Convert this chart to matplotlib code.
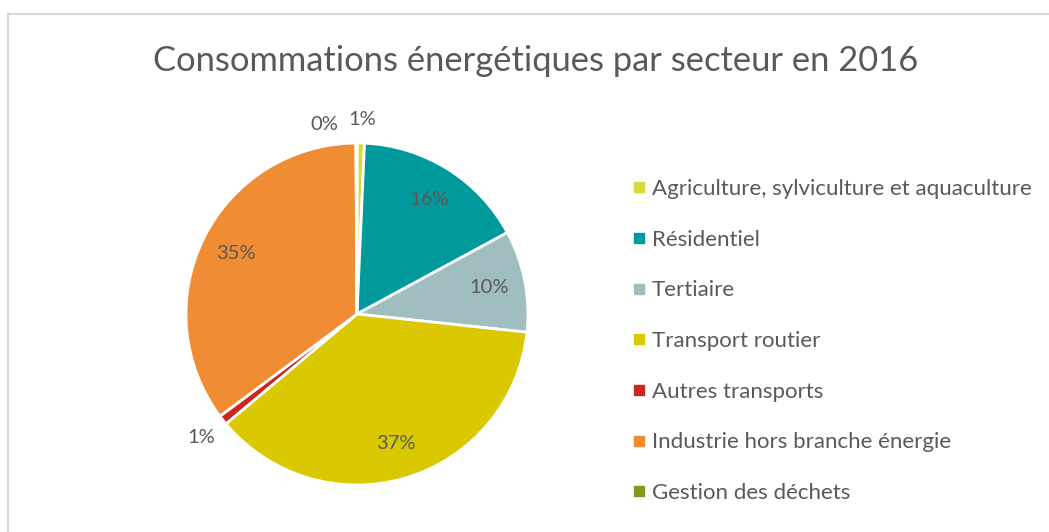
import numpy as np
import matplotlib
matplotlib.use("Agg")
import matplotlib.pyplot as plt
from matplotlib.lines import Line2D
from matplotlib.patches import Rectangle

plt.rcParams["font.family"] = ["Lato", "DejaVu Sans"]

# data
sectors = [
    "Agriculture, sylviculture et aquaculture",
    "Résidentiel",
    "Tertiaire",
    "Transport routier",
    "Autres transports",
    "Industrie hors branche énergie",
    "Gestion des déchets",
]
shares = [0.7, 16.4, 9.6, 37.2, 0.9, 35.1, 0.1]
pct_labels = ["1%", "16%", "10%", "37%", "1%", "35%", "0%"]
colors = ["#d3dc3a", "#009a9c", "#a0bec0", "#dac800", "#c8281e", "#f08c34", "#8a961e"]
outside = [True, False, False, False, True, False, True]

W, H = 1049, 532
fig = plt.figure(figsize=(W / 100, H / 100), dpi=100)

# chart frame
fig.patches.append(Rectangle((7.5 / W, -0.1), 1.2, (H - 13.5) / H + 0.1,
                             transform=fig.transFigure, fill=False,
                             edgecolor="#d9d9d9", linewidth=1.5))

cx, cy, r = 357, 314, 171
ax = fig.add_axes([(cx - r) / W, (H - cy - r) / H, 2 * r / W, 2 * r / H])
wedges, _ = ax.pie(shares, colors=colors, startangle=90, counterclock=False,
                   radius=1.0, wedgeprops=dict(edgecolor="white", linewidth=2))
ax.set_xlim(-1, 1)
ax.set_ylim(-1, 1)
ax.set_aspect("equal")
ax.axis("off")

txt_color = "#595959"
labels = []
for w, lab, out in zip(wedges, pct_labels, outside):
    mid = np.deg2rad((w.theta1 + w.theta2) / 2)
    d = 1.16 if out else 0.79
    x, y = d * np.cos(mid), d * np.sin(mid)
    labels.append(ax.text(x, y, lab, ha="center", va="center",
                          fontsize=14.5, color=txt_color))

# small outside labels at the top get nudged apart
labels[0].set_position((0.03, 1.14))
labels[6].set_position((-0.19, 1.11))

fig.text(536 / W, 1 - 61 / H, "Consommations énergétiques par secteur en 2016",
         ha="center", va="center", fontsize=24.8, color=txt_color)

handles = [Line2D([], [], marker="s", linestyle="none", markersize=7,
                  markerfacecolor=c, markeredgecolor=c) for c in colors]
fig.legend(handles, sectors, loc="upper left",
           bbox_to_anchor=(621 / W, 1 - 168 / H), frameon=False,
           fontsize=16, labelcolor=txt_color, handlelength=0.6,
           handletextpad=0.3, labelspacing=1.38, borderpad=0)

fig.savefig("out.png", dpi=100)
